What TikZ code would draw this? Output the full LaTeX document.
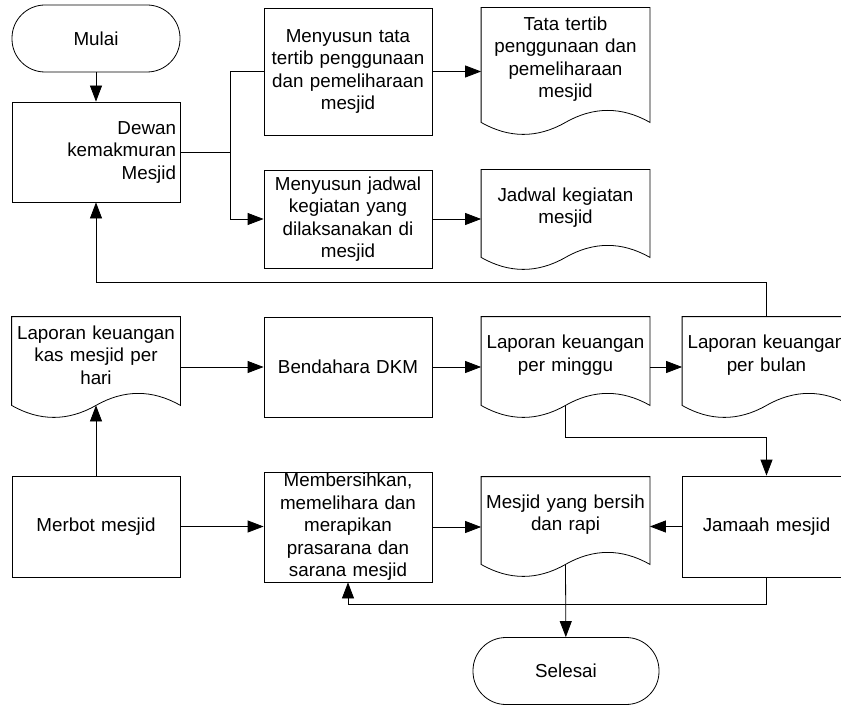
\documentclass[tikz,border=0pt]{standalone}
\usepackage{fontspec}
\setmainfont{Liberation Sans}
\usetikzlibrary{arrows.meta,calc}

\begin{document}
\begin{tikzpicture}[x=1pt,y=1pt,line width=.8pt,
        >={Triangle[length=16pt,width=12pt]},
        every node/.style={font=\fontsize{18.8}{22.5}\selectfont,inner sep=1pt},
        box/.style={draw,minimum width=168pt,minimum height=#1,
        text width=160pt,align=center},
        doc/.style={minimum width=168pt,minimum height=#1,
        text width=160pt,align=center},
        term/.style={draw,rounded corners=33pt,minimum width=#1,
        minimum height=67pt}]
        \clip (0,0) rectangle (841,-706);

        \node[term=168pt] (mulai) at (96,-38.5) {Mulai};
        \node[box=100pt,align=right] (dewan) at (96,-152) {Dewan\\kemakmuran\\Mesjid};
        \node[box=127pt] (susuntata) at (348,-71.5) {Menyusun tata\\tertib penggunaan\\dan pemeliharaan\\mesjid};
        \node[box=98pt] (susunjadwal) at (348,-219) {Menyusun jadwal\\kegiatan yang\\dilaksanakan di\\mesjid};
        \node[doc=102pt] (doktata) at (565.5,-59) {Tata tertib\\penggunaan dan\\pemeliharaan\\mesjid};
        \node[doc=75pt] (dokjadwal) at (565.5,-207.5) {Jadwal kegiatan\\mesjid};

        \node[doc=76pt] (kas) at (96,-355) {Laporan keuangan\\kas mesjid per\\hari};
        \node[box=100pt] (bendahara) at (348,-367) {Bendahara DKM};
        \node[doc=76pt] (minggu) at (565.5,-355) {Laporan keuangan\\per minggu};
        \node[doc=76pt] (bulan) at (766.5,-355) {Laporan keuangan\\per bulan};

        \node[box=101pt] (merbot) at (96,-526.5) {Merbot mesjid};
        \node[box=110pt,inner sep=0pt] (bersihkan) at (348,-527) {Membersihkan,\\memelihara dan\\merapikan\\prasarana dan\\sarana mesjid};
        \node[doc=75pt] (bersih) at (565.5,-514.5) {Mesjid yang bersih\\dan rapi};
        \node[box=101pt] (jamaah) at (766.5,-526.5) {Jamaah mesjid};
        \node[term=186pt] (selesai) at (566,-671) {Selesai};

        % document outlines
        \foreach \d in {doktata,dokjadwal,kas,minggu,bulan,bersih}{
            \draw ($(\d.south west)+(0,-12)$) -- (\d.north west) -- (\d.north east)
            -- ($(\d.south east)+(0,-12)$)
            .. controls +(-28,16) and +(28,16) .. ($(\d.south)+(0,-12)$) coordinate (\d-g)
            .. controls +(-28,-16) and +(28,-16) .. ($(\d.south west)+(0,-12)$) -- cycle;
        }

        % top part
        \draw[->] (mulai) -- (dewan);
        \coordinate (cabang) at (230,-152);
        \draw (dewan.east) -- (cabang);
        \draw (susuntata.west) -| (cabang);
        \draw[->] (cabang) |- (susunjadwal.west);
        \draw[->] (susuntata.east) -- (susuntata.east -| doktata.west);
        \draw[->] (susunjadwal.east) -- (susunjadwal.east -| dokjadwal.west);

        % reports
        \draw[->] (bulan.north) -- ++(0,34) -| (dewan.south);
        \draw[->] (kas.east |- bendahara) -- (bendahara.west);
        \draw[->] (bendahara.east) -- (bendahara.east -| minggu.west);
        \draw[->] (minggu.east |- bendahara) -- (bulan.west |- bendahara);
        \draw[->] (minggu-g) -- ++(0,-32) -| (jamaah.north);

        % bottom part
        \draw[->] (merbot) -- (kas-g);
        \draw[->] (merbot.east) -- (merbot.east -| bersihkan.west);
        \draw[->] (bersihkan.east) -- (bersihkan.east -| bersih.west);
        \draw[->] (jamaah.west) -- (jamaah.west -| bersih.east);
        \draw[->] (jamaah.south) -- ++(0,-27) -| (bersihkan.south);
        \draw[->] (bersih-g) -- (selesai);
    \end{tikzpicture}
\end{document}
